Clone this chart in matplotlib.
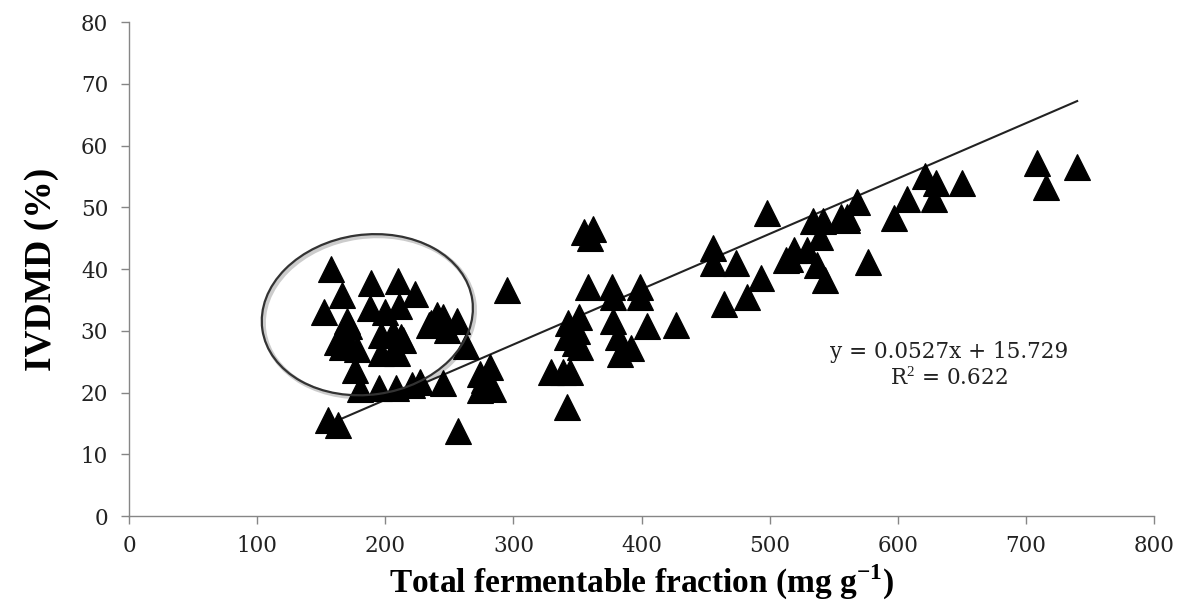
import numpy as np
import matplotlib
matplotlib.use('Agg')
import matplotlib.pyplot as plt
from matplotlib.patches import Ellipse
from matplotlib.transforms import ScaledTranslation

plt.rcParams['mathtext.fontset'] = 'custom'
plt.rcParams['mathtext.rm'] = 'Liberation Serif'
plt.rcParams['mathtext.bf'] = 'Liberation Serif:bold'

# points (x: mg/g, y: %)
x_left = [155, 163, 257, 158, 166, 152, 189, 210, 223, 188, 200, 211, 170, 172, 162, 172,
          178, 166, 197, 206, 212, 214, 206, 197, 209, 240, 245, 256, 234, 248, 236, 263,
          176, 180, 195, 208, 221, 227, 245, 274, 282, 274, 284, 277, 295]
y_left = [15.5, 14.7, 13.8, 40.0, 35.8, 33.0, 37.8, 38.0, 36.0, 33.7, 33.0, 34.0, 31.5, 30.7, 28.2, 28.0,
          27.0, 27.4, 29.3, 29.6, 29.0, 28.5, 26.6, 26.4, 26.4, 32.5, 32.3, 31.6, 31.0, 30.2, 31.2, 27.5,
          23.6, 20.5, 20.7, 20.7, 21.2, 21.7, 21.6, 23.0, 24.2, 20.4, 20.5, 22.0, 36.6]
x_mid = [355, 362, 360, 358, 377, 399, 378, 399, 351, 343, 378, 404, 427, 342, 352, 382,
         383, 392, 329, 344, 339, 342, 350, 348]
y_mid = [46.0, 46.5, 45.0, 37.1, 37.1, 37.1, 35.5, 35.5, 32.3, 31.2, 31.5, 30.7, 30.9, 29.0, 27.4, 29.0,
         26.3, 27.2, 23.4, 23.4, 23.4, 17.7, 30.0, 28.0]
x_right = [456, 456, 474, 498, 493, 464, 482, 516, 513, 519, 529, 534, 542, 539, 537, 543,
           560, 568, 577, 597, 607, 621, 628, 630, 650, 709, 716, 740, 560, 556]
y_right = [43.4, 40.9, 40.9, 49.0, 38.5, 34.4, 35.5, 41.7, 41.5, 43.0, 43.0, 47.7, 47.7, 45.2, 40.6, 38.2,
           48.5, 50.9, 41.2, 48.2, 51.4, 55.0, 51.4, 54.0, 54.0, 57.1, 53.3, 56.6, 47.9, 48.5]

xs = np.array(x_left + x_mid + x_right)
ys = np.array(y_left + y_mid + y_right)

# trend line as drawn in the picture
trend_x = [163, 740]
trend_y = [15.5, 67.2]
eq_text = 'y = 0.0527x + 15.729'
r2_text = 'R$^2$ = 0.622'

xticks = list(range(0, 801, 100))
yticks = list(range(0, 81, 10))

fig = plt.figure(figsize=(11.77, 6.05), dpi=100)
ax = fig.add_axes([0.1096, 0.1471, 0.8709, 0.8165])

ax.plot(trend_x, trend_y, color='#222222', lw=1.5, zorder=2)
ax.plot(xs, ys, linestyle='none', marker='^', ms=19, color='black',
        markeredgewidth=0.8, markeredgecolor='black', zorder=3)

# circled group (size in inches, centred in data space)
cx, cy = 186, 32.6
tr = fig.dpi_scale_trans + ScaledTranslation(cx, cy, ax.transData)
shadow = Ellipse((0.02, -0.02), 2.12, 1.60, angle=8, fill=False, ec='#cccccc', lw=3, transform=tr, zorder=1)
ax.add_patch(shadow)
ell = Ellipse((0, 0), 2.12, 1.60, angle=8, fill=False, ec='#333333', lw=1.6, transform=tr, zorder=4)
ax.add_patch(ell)

ax.set_xlim(0, 800)
ax.set_ylim(0, 80)
ax.set_xticks(xticks)
ax.set_yticks(yticks)
for s in ['top', 'right']:
    ax.spines[s].set_visible(False)
for s in ['left', 'bottom']:
    ax.spines[s].set_color('#868686')
    ax.spines[s].set_linewidth(1.0)
ax.tick_params(axis='both', direction='out', length=6, color='#868686', width=1.0,
               labelsize=15.5, labelcolor='#222222', labelfontfamily='DejaVu Serif')
ax.tick_params(axis='y', pad=9)
ax.tick_params(axis='x', pad=8)

ax.set_xlabel('Total fermentable fraction (mg g$^{\\mathbf{-1}}$)', family='Liberation Serif',
              fontweight='bold', fontsize=24, labelpad=4)
ax.set_ylabel('IVDMD (%)', family='Liberation Serif', fontweight='bold', fontsize=27, labelpad=16)

ax.text(640, 26.6, eq_text, family='DejaVu Serif', fontsize=15.5, ha='center', va='center', color='#222222')
ax.text(640, 22.2, r2_text, family='DejaVu Serif', fontsize=15.5, ha='center', va='center', color='#222222')

fig.savefig('out.png', dpi=100)
